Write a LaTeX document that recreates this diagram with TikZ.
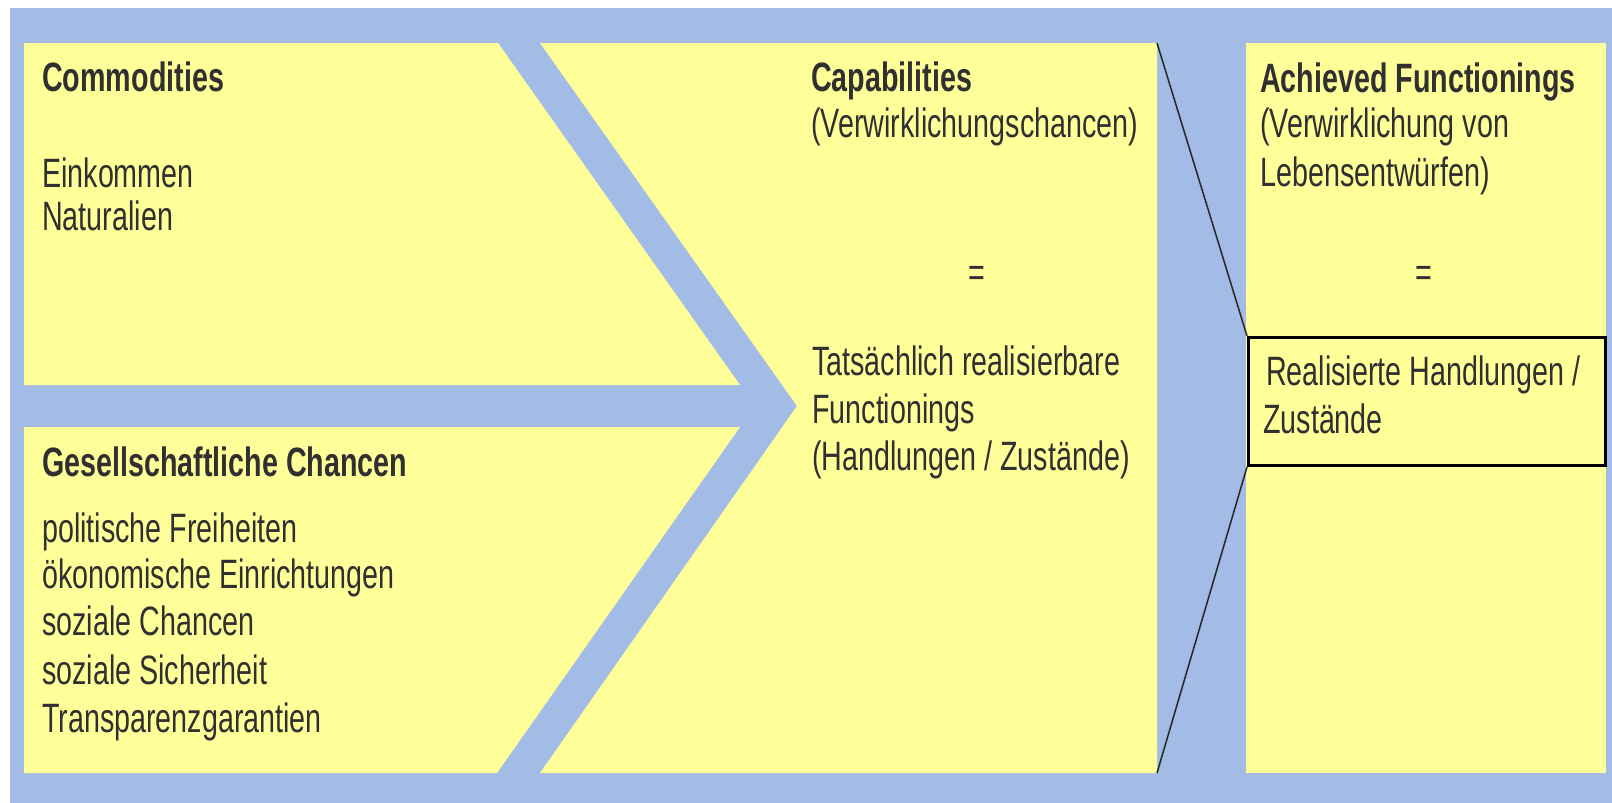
\documentclass[tikz,border=0pt]{standalone}
\usepackage{fontspec}
\setmainfont{Liberation Sans}[FakeStretch=0.70]
\definecolor{bgblue}{HTML}{A3BCE6}
\definecolor{boxyellow}{HTML}{FFFF99}
\definecolor{txtc}{HTML}{303030}
\tikzset{
  txt/.style={anchor=base west, inner sep=0pt, text=txtc, font=\fontsize{41}{46.5}\selectfont},
  hd/.style={txt, font=\fontsize{41}{46.5}\selectfont\bfseries},
  eq/.style={anchor=base, inner sep=0pt, text=txtc, font=\fontsize{41}{46.5}\selectfont},
  panel/.style={fill=boxyellow, draw=none},
  thinline/.style={draw=black!85, line width=1.5pt},
}
\begin{document}
\begin{tikzpicture}[x=1pt,y=-1pt]
\useasboundingbox (0,0) rectangle (1612,803);
\fill[white] (0,0) rectangle (1612,803);
\fill[bgblue] (10,8) rectangle (1612,803);
% panels
\fill[panel] (24,43) -- (498,43) -- (740,385) -- (24,385) -- cycle;
\fill[panel] (24,427) -- (740,427) -- (497,773) -- (24,773) -- cycle;
\fill[panel] (540,43) -- (1157,43) -- (1157,773) -- (540,773) -- (797,406) -- cycle;
\fill[panel] (1246,43) rectangle (1606,773);
% framed box
\node[draw=black, line width=3pt, fill=boxyellow, minimum width=357pt, minimum height=128pt, anchor=north west, inner sep=0pt] (rb) at (1247,336) {};
\coordinate (captr) at (1157,43);
\coordinate (capbr) at (1157,773);
\draw[thinline] (captr) -- (rb.north west);
\draw[thinline] (rb.south west) -- (capbr);
% texts left
\node[hd] (t1) at (42,91) {Commodities};
\node[txt] (t2) at (42,187) {Einkommen};
\node[txt] (t3) at (42,230) {Naturalien};
\node[hd] (t4) at (42,476) {Gesellschaftliche Chancen};
\node[txt] (t5) at (42,542) {politische Freiheiten};
\node[txt] (t6) at (42,588) {ökonomische Einrichtungen};
\node[txt] (t7) at (42,635) {soziale Chancen};
\node[txt] (t8) at (42,684) {soziale Sicherheit};
\node[txt] (t9) at (42,732) {Transparenzgarantien};
% middle
\node[hd] (m1) at (811,91) {Capabilities};
\node[txt] (m2) at (811,137) {(Verwirklichungschancen)};
\node[eq] (m3) at (977,286) {=};
\node[txt] (m4) at (812,375) {Tatsächlich realisierbare};
\node[txt] (m5) at (812,423) {Functionings};
\node[txt] (m6) at (812,470) {(Handlungen / Zustände)};
% right
\node[hd] (r1) at (1260,92) {Achieved Functionings};
\node[txt] (r2) at (1260,137) {(Verwirklichung von};
\node[txt] (r3) at (1260,186) {Lebensentwürfen)};
\node[eq] (r4) at (1424,286) {=};
\node[txt] (r5) at (1266,385) {Realisierte Handlungen /};
\node[txt] (r6) at (1263,433) {Zustände};
\end{tikzpicture}
\end{document}
